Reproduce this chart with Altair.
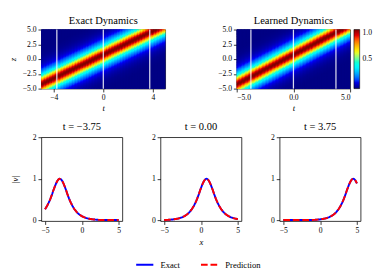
import altair as alt
import pandas as pd

# ---------------- data ----------------
# |v| profile of the travelling pulse vs. distance from its peak (step 0.125, 0 .. 6)
profile_step = 0.125
profile_v = [1.000, 0.992, 0.970, 0.933, 0.887, 0.834, 0.776, 0.716, 0.648, 0.587,
             0.528, 0.473, 0.425, 0.380, 0.338, 0.300, 0.266, 0.236, 0.209, 0.185,
             0.163, 0.144, 0.127, 0.113, 0.099, 0.088, 0.077, 0.068, 0.060, 0.053,
             0.047, 0.041, 0.037, 0.032, 0.029, 0.025, 0.022, 0.019, 0.017, 0.015,
             0.013, 0.012, 0.010, 0.009, 0.008, 0.007, 0.006, 0.006, 0.005]
# pulse centre z at t = 0 and drift per unit time
centre_at_t0 = 0.75
drift = 1.0
# grid of the heat maps (t and z from -5 to 5)
grid = [-5 + profile_step * i for i in range(81)]

snapshot_times = [-3.75, 0.0, 3.75]
snapshot_titles = ["t = \u22123.75", "t = 0.00", "t = 3.75"]
snapshot_peaks = [-3.0, 0.75, 4.5]
series_names = ["Exact", "Prediction"]
series_colors = ["#0000ff", "#ff0000"]

exact_xticks = [-4, -2, 0, 2, 4]
learned_xticks = [-5.0, -2.5, 0.0, 2.5, 5.0]
z_ticks = [-5.0, -2.5, 0.0, 2.5, 5.0]
jet_stops = [0.0, 0.125, 0.375, 0.625, 0.875, 1.0]
jet_colors = ["#00007f", "#0000ff", "#00ffff", "#ffff00", "#ff0000", "#7f0000"]


def lookup(dist):
    k = int(round(abs(dist) / profile_step))
    return profile_v[min(k, len(profile_v) - 1)]


heat_rows = []
for t in grid:
    for z in grid:
        heat_rows.append({"t": t, "z": z, "v": lookup(z - (centre_at_t0 + drift * t))})
heat_df = pd.DataFrame(heat_rows)
snap_df = pd.DataFrame({"t": snapshot_times})

FONT = "Liberation Serif"
half_t = profile_step / 2 + 0.05   # small overlap of neighbouring cells (no seams)
half_z = profile_step / 2 + 0.09
HEAT_H = 62


def heatmap(title, xticks, xfmt, width, show_z, legend):
    rect = alt.Chart(heat_df).transform_calculate(
        t0=f"datum.t - {half_t}", t1=f"datum.t + {half_t}",
        z0=f"datum.z - {half_z}", z1=f"datum.z + {half_z}",
    ).mark_rect(clip=True).encode(
        x=alt.X("t0:Q", scale=alt.Scale(domain=[-5, 5], nice=False, zero=False),
                axis=alt.Axis(values=xticks, format=xfmt, title="t", titleFontStyle="italic",
                              titlePadding=2)),
        x2="t1:Q",
        y=alt.Y("z0:Q", scale=alt.Scale(domain=[-5, 5], nice=False, zero=False),
                axis=alt.Axis(values=z_ticks, format=".1f",
                              title="z" if show_z else None, titleFontStyle="italic",
                              titlePadding=5)),
        y2="z1:Q",
        color=alt.Color("v:Q", scale=alt.Scale(domain=jet_stops, range=jet_colors, clamp=True),
                        legend=legend),
    )
    rules = alt.Chart(snap_df).mark_rule(color="white", strokeWidth=1.3, opacity=0.85).encode(
        x="t:Q")
    return alt.layer(rect, rules).properties(
        width=width, height=HEAT_H, title=alt.TitleParams(title, offset=0))


cbar = alt.Legend(orient="right", offset=4, title=None, values=[0.5, 1.0], format=".1f",
                  type="gradient",
                  gradientLength=HEAT_H, gradientThickness=6, gradientStrokeColor="black",
                  gradientStrokeWidth=0.6, padding=0, labelFontSize=8, labelFont=FONT,
                  labelColor="black", labelOffset=3)

top = alt.hconcat(
    heatmap("Exact Dynamics", exact_xticks, ".0f", 130, True, None),
    heatmap("Learned Dynamics", learned_xticks, ".1f", 119, False, cbar),
    spacing=53,
).resolve_scale(color="independent")

line_rows = []
for k, (tt, pk) in enumerate(zip(snapshot_times, snapshot_peaks)):
    for x in grid:
        for s in series_names:
            line_rows.append({"snap": k, "x": x, "v": lookup(x - pk), "series": s})
line_df = pd.DataFrame(line_rows)

leg = alt.Legend(orient="none", legendX=98, legendY=123, direction="horizontal", title=None,
                 symbolType="stroke", symbolSize=324, symbolStrokeWidth=2.2,
                 labelFontSize=9, labelFont=FONT, labelColor="black", columnPadding=17,
                 labelOffset=6, padding=0)

panels = []
for k in range(3):
    panels.append(
        alt.Chart(line_df).transform_filter(f"datum.snap == {k}").mark_line(clip=True).encode(
            x=alt.X("x:Q", scale=alt.Scale(domain=[-5.5, 5.5], nice=False, zero=False),
                    axis=alt.Axis(values=[-5, 0, 5], format=".0f",
                                  title="x" if k == 1 else None, titleFontStyle="italic",
                                  titlePadding=4)),
            y=alt.Y("v:Q", scale=alt.Scale(domain=[-0.02, 2], nice=False, zero=False),
                    axis=alt.Axis(values=[0, 1, 2], format=".0f",
                                  title="|v|" if k == 0 else None, titleFontStyle="italic",
                                  titlePadding=13)),
            color=alt.Color("series:N", scale=alt.Scale(domain=series_names, range=series_colors),
                            legend=leg),
            strokeDash=alt.StrokeDash("series:N",
                                      scale=alt.Scale(domain=series_names, range=[[1, 0], [7, 3]]),
                                      legend=leg),
            strokeWidth=alt.value(2),
        ).properties(width=85, height=88, title=alt.TitleParams(snapshot_titles[k], offset=2))
    )

bottom = alt.hconcat(*panels, spacing=29).resolve_scale(color="shared", strokeDash="shared")

chart = alt.vconcat(top, bottom, spacing=8, padding=0).resolve_scale(
    color="independent", strokeDash="independent"
).configure(
    font=FONT, background="white"
).configure_view(
    stroke="black", strokeWidth=0.8
).configure_axis(
    domain=False, grid=False, tickColor="black", tickSize=3.5, tickWidth=0.8,
    labelFontSize=8, labelFont=FONT, labelColor="black", labelPadding=2,
    titleFontSize=9, titleFont=FONT, titleColor="black", titleFontWeight="normal",
).configure_title(
    fontSize=11, font=FONT, fontWeight="normal", color="black"
)

chart.save("out.html", embed_options={"renderer": "svg", "actions": False})
